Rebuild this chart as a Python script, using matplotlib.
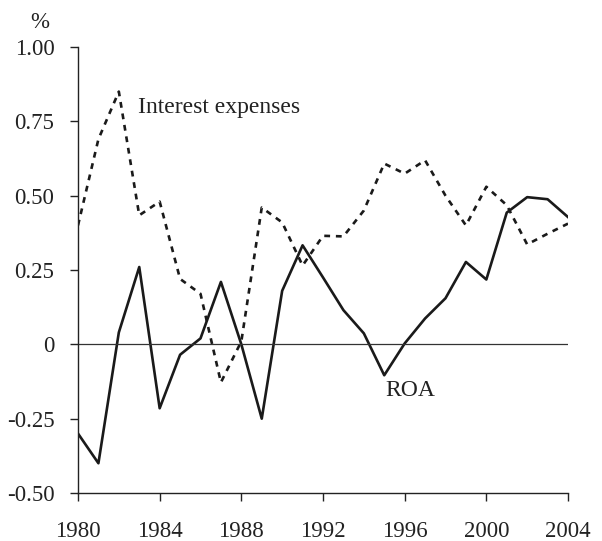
import numpy as np
import matplotlib.pyplot as plt

years = list(range(1980, 2005))
roa = [-0.30, -0.40, 0.04, 0.26, -0.215, -0.035, 0.02, 0.21, 0.0, -0.25,
       0.18, 0.333, 0.225, 0.115, 0.037, -0.104, 0.003, 0.087, 0.155, 0.277,
       0.218, 0.443, 0.495, 0.488, 0.428]
interest = [0.40, 0.69, 0.85, 0.434, 0.48, 0.22, 0.17, -0.128, 0.01, 0.46,
            0.41, 0.265, 0.365, 0.363, 0.45, 0.608, 0.574, 0.619, 0.50, 0.40,
            0.53, 0.468, 0.336, 0.372, 0.406]
yticks = [-0.5, -0.25, 0, 0.25, 0.5, 0.75, 1.0]
ytick_labels = ['-0.50', '-0.25', '0', '0.25', '0.50', '0.75', '1.00']
xticks = [1980, 1984, 1988, 1992, 1996, 2000, 2004]

plt.rcParams['font.family'] = ['Liberation Serif', 'DejaVu Serif']

fig = plt.figure(figsize=(6.02, 5.41), dpi=100)
ax = fig.add_axes([78 / 602, 1 - 493 / 541, 490 / 602, 446 / 541])

ax.plot(years, interest, color='#1a1a1a', linewidth=1.9, linestyle=(0, (2.2, 2.2)))
ax.plot(years, roa, color='#1a1a1a', linewidth=1.9)
ax.axhline(0, color='#333333', linewidth=0.9)

ax.set_xlim(1980, 2004)
ax.set_ylim(-0.5, 1.0)
ax.set_xticks(xticks)
ax.set_yticks(yticks)
ax.set_yticklabels(ytick_labels)

for s in ['top', 'right']:
    ax.spines[s].set_visible(False)
for s in ['left', 'bottom']:
    ax.spines[s].set_linewidth(1)
    ax.spines[s].set_color('#222222')
ax.tick_params(axis='both', direction='out', length=6, width=1, labelsize=16.5,
               colors='#222222')
ax.tick_params(axis='x', pad=14)
ax.tick_params(axis='y', pad=11)

ax.text(1982.95, 0.777, 'Interest expenses', fontsize=17, ha='left', va='baseline', color='#222222')
ax.text(1995.03, -0.175, 'ROA', fontsize=17, ha='left', va='baseline', color='#222222')
fig.text(40 / 602, 1 - 22 / 541, '%', fontsize=16.5, ha='center', va='center', color='#222222')

fig.savefig('out.png', dpi=100)
